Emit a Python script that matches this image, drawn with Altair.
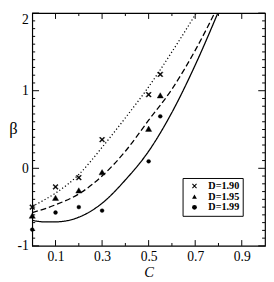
import altair as alt
import pandas as pd

# ---- data ----
series = ["D=1.90", "D=1.95", "D=1.99"]

pt_C = [0.0, 0.1, 0.2, 0.3, 0.5, 0.55]
pt_190 = [-0.50, -0.24, -0.12, 0.37, 0.95, 1.21]
pt_195 = [-0.61, -0.38, -0.285, -0.05, 0.51, 0.94]
pt_199 = [-0.79, -0.57, -0.50, -0.545, 0.09, 0.67]

ln_C = [0.0, 0.05, 0.1, 0.2, 0.3, 0.4, 0.5, 0.6, 0.7, 0.8]
ln_190 = [-0.49, -0.41, -0.32, -0.08, 0.27, 0.65, 1.05, 1.50, 1.98, 2.50]
ln_195 = [-0.57, -0.525, -0.47, -0.33, -0.10, 0.22, 0.62, 1.02, 1.52, 2.10]
ln_199 = [-0.67, -0.69, -0.69, -0.63, -0.45, -0.15, 0.22, 0.72, 1.33, 2.02]

x_labels = [0.1, 0.3, 0.5, 0.7, 0.9]
y_labels = [-1, 0, 1, 2]
x_minor = [0.2, 0.4, 0.6, 0.8]
y_minor = [round(-1 + 0.1 * i, 1) for i in range(1, 30) if i % 10 != 0]

pts = pd.DataFrame({
    "C": pt_C * 3,
    "beta": pt_190 + pt_195 + pt_199,
    "series": [s for s in series for _ in pt_C],
})

W, H = 240, 240
SERIF = "Liberation Serif"
xscale = alt.Scale(domain=[0, 1], nice=False, zero=False)
yscale = alt.Scale(domain=[-1, 2], nice=False, zero=False)

xaxis = alt.Axis(
    values=x_labels, format=".1f", ticks=False, domain=False, grid=False,
    labelFont=SERIF, labelFontSize=14, labelPadding=4, labelColor="black",
    title="C", titleFont=SERIF, titleFontStyle="italic", titleFontWeight="normal",
    titleFontSize=15, titleX=120, titleY=32, titleBaseline="alphabetic", titleColor="black")
yaxis = alt.Axis(
    values=y_labels, labelExpr="'' + datum.value", ticks=False, domain=False, grid=False,
    labelFont=SERIF, labelFontSize=14, labelPadding=4, labelColor="black",
    labelBaseline=alt.condition("datum.value == 2", alt.value("top"), alt.value("middle")),
    title="β", titleFont=SERIF, titleFontWeight="normal", titleFontSize=17,
    titleAngle=0, titleX=-20, titleY=119, titleAlign="center", titleBaseline="middle",
    titleColor="black")

X = alt.X("C:Q", scale=xscale, axis=xaxis)
Y = alt.Y("beta:Q", scale=yscale, axis=yaxis)

# filled "x" glyph so it also shows in the legend
xpath = "M-1,-0.7L-0.7,-1L1,0.7L0.7,1ZM0.7,-1L1,-0.7L-0.7,1L-1,0.7Z"
dashes = [[1.2, 2.4], [6, 3], [1, 0]]

points = alt.Chart(pts).mark_point(filled=True, color="black", stroke="black", strokeWidth=0.4, opacity=1).encode(
    x=X, y=Y,
    shape=alt.Shape("series:N", scale=alt.Scale(domain=series, range=[xpath, "triangle-up", "circle"]),
                    legend=alt.Legend(title=None, orient="none", legendX=155, legendY=170,
                                      symbolStrokeColor="black", symbolFillColor="black",
                                      symbolStrokeWidth=0.4, symbolOpacity=1)),
    size={"condition": [{"test": "datum.series == 'D=1.99'", "value": 16},
                        {"test": "datum.series == 'D=1.95'", "value": 40}],
          "value": 30},
)

line_layers = []
for s, vals, dash in zip(series, [ln_190, ln_195, ln_199], dashes):
    d = pd.DataFrame({"C": ln_C, "beta": vals})
    line_layers.append(
        alt.Chart(d).mark_line(clip=True, strokeWidth=1.3, color="black",
                               interpolate="monotone", strokeDash=dash).encode(x=X, y=Y)
    )

def xticks(vals, length):
    d = pd.DataFrame({"C": vals})
    b = alt.Chart(d).mark_rule(color="black", strokeWidth=1).encode(
        x=X, y=alt.value(H), y2=alt.value(H - length))
    t = alt.Chart(d).mark_rule(color="black", strokeWidth=1).encode(
        x=X, y=alt.value(0), y2=alt.value(length))
    return [b, t]

def yticks(vals, length):
    d = pd.DataFrame({"beta": vals})
    l = alt.Chart(d).mark_rule(color="black", strokeWidth=1).encode(
        y=Y, x=alt.value(0), x2=alt.value(length))
    r = alt.Chart(d).mark_rule(color="black", strokeWidth=1).encode(
        y=Y, x=alt.value(W), x2=alt.value(W - length))
    return [l, r]

ticks = xticks(x_labels, 6) + xticks(x_minor, 3) + yticks(y_labels, 7) + yticks(y_minor, 3)

chart = alt.layer(points, *line_layers, *ticks).properties(
    width=W, height=H,
    padding={"left": 0, "top": 0, "right": 0, "bottom": 0},
).configure_view(stroke="black", strokeWidth=1.2).configure_legend(
    strokeColor="black", strokeWidth=1, fillColor="white", padding=3,
    labelFont=SERIF, labelFontSize=10.5, labelFontWeight="bold", labelColor="black",
    symbolSize=25, symbolOffset=4, labelOffset=9, rowPadding=0, cornerRadius=0,
)

chart.save("out.html", embed_options={"renderer": "svg", "actions": False})
